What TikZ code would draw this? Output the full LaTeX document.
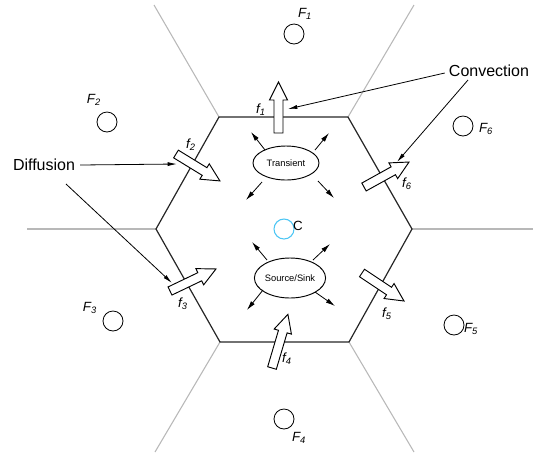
\documentclass[tikz,border=0pt]{standalone}
\usepackage{fontspec}
\setmainfont{Liberation Sans}
\usetikzlibrary{arrows.meta,shapes.geometric}

\tikzset{
  hexedge/.style={line width=0.9pt, black!85},
  cellline/.style={line width=0.8pt, black!28},
  cellpoint/.style={circle, draw, line width=0.6pt, minimum size=15pt, inner sep=0pt},
  centrepoint/.style={circle, draw=cyan!70, line width=0.8pt, minimum size=15pt, inner sep=0pt},
  pointer/.style={line width=0.6pt, -{Latex[length=7pt,width=3pt]}},
  spoke/.style={line width=0.6pt, -{Latex[length=7pt,width=3.6pt]}},
  fluxbox/.style={draw, fill=white, line width=0.7pt, line join=miter},
  termbox/.style={ellipse, draw, line width=0.7pt, inner sep=0pt, font=\fontsize{7}{8}\selectfont},
  lbl/.style={font=\fontsize{10}{12}\selectfont\itshape, inner sep=0pt},
  caption/.style={font=\fontsize{12}{14}\selectfont, inner sep=0pt},
}

% hollow block arrow: #1 name of its tip, #2 tail point, #3 angle, #4 length
\newcommand\fluxarrow[4]{%
  \begin{scope}[shift={#2}, rotate=#3]
    \draw[fluxbox] (0,-4.5) -- ({#4-18},-4.5) -- ({#4-18},-9) -- (#4,0)
      -- ({#4-18},9) -- ({#4-18},4.5) -- (0,4.5) -- cycle;
    \coordinate (#1) at ({#4-20},0);
  \end{scope}}

\begin{document}
\begin{tikzpicture}[x=0.75pt, y=-0.75pt]
  \useasboundingbox (0,0) rectangle (533,455);

  % hexagonal control volume
  \coordinate (TL) at (219,117);
  \coordinate (TR) at (348,117);
  \coordinate (R)  at (412,229);
  \coordinate (BR) at (349,342);
  \coordinate (BL) at (220,342);
  \coordinate (L)  at (156,229);

  % neighbouring cell boundaries
  \draw[cellline] (TL) -- (154,5);
  \draw[cellline] (TR) -- (414,5);
  \draw[cellline] (R)  -- (533,229);
  \draw[cellline] (L)  -- (27,229);
  \draw[cellline] (BL) -- (155,452);
  \draw[cellline] (BR) -- (414,452);

  \draw[hexedge] (TL) -- (TR) -- (R) -- (BR) -- (BL) -- (L) -- cycle;

  % neighbouring nodes
  \node[cellpoint] (F1) at (294,34) {};
  \node[cellpoint] (F2) at (107,122) {};
  \node[cellpoint] (F3) at (113,321) {};
  \node[cellpoint] (F4) at (284,419) {};
  \node[cellpoint] (F5) at (454,325) {};
  \node[cellpoint] (F6) at (463,126) {};
  \node[centrepoint] (C) at (284,229) {};

  \node[lbl] at (305,14)  {F\textsubscript{1}};
  \node[lbl] at (94,100)  {F\textsubscript{2}};
  \node[lbl] at (90,308)  {F\textsubscript{3}};
  \node[lbl] at (299,438) {F\textsubscript{4}};
  \node[lbl] at (471,329) {F\textsubscript{5}};
  \node[lbl] at (486,129) {F\textsubscript{6}};
  \node[lbl, font=\fontsize{10}{12}\selectfont] at (298,226) {C};

  % source terms inside the cell
  \node[termbox, minimum width=49.5pt, minimum height=25.5pt] (trans) at (286,163) {Transient};
  \node[termbox, minimum width=52.5pt, minimum height=30pt] (src) at (290,278) {Source/Sink};

  \coordinate (t1) at (251,132);
  \coordinate (t2) at (329,133);
  \coordinate (t3) at (246,200);
  \coordinate (t4) at (334,198);
  \draw[spoke] (265,150) -- (t1);
  \draw[spoke] (315,150) -- (t2);
  \draw[spoke] (262,182) -- (t3);
  \draw[spoke] (318,181) -- (t4);

  \coordinate (s1) at (252,242);
  \coordinate (s2) at (330,244);
  \coordinate (s3) at (247,310);
  \coordinate (s4) at (335,306);
  \draw[spoke] (267,260) -- (s1);
  \draw[spoke] (313,260) -- (s2);
  \draw[spoke] (263,290) -- (s3);
  \draw[spoke] (315,292) -- (s4);

  % face fluxes
  \fluxarrow{a1}{(278.5,133)}{90}{51}
  \fluxarrow{a2}{(176,154)}{-31.5}{51.5}
  \fluxarrow{a3}{(170,291)}{25.6}{51}
  \fluxarrow{a4}{(272,368)}{73.5}{56}
  \fluxarrow{a5}{(362,273)}{-33.7}{50.5}
  \fluxarrow{a6}{(364,187)}{29}{51.5}

  \node[lbl] at (261,110) {f\textsubscript{1}};
  \node[lbl] at (191,145) {f\textsubscript{2}};
  \node[lbl] at (183,304) {f\textsubscript{3}};
  \node[lbl] at (287,359) {f\textsubscript{4}};
  \node[lbl] at (387,314) {f\textsubscript{5}};
  \node[lbl] at (407,184) {f\textsubscript{6}};

  % annotations
  \node[caption] (conv) at (489,71) {Convection};
  \node[caption] (diff) at (44,165) {Diffusion};

  \coordinate (cv1) at (288,109);
  \coordinate (cv2) at (397,162);
  \coordinate (cv2s) at (468,80);
  \draw[pointer] (conv.west) ++(-4,2) -- (cv1);
  \draw[pointer] (cv2s) -- (cv2);

  \coordinate (df1) at (177,164);
  \coordinate (df2) at (172,283);
  \coordinate (df2s) at (66,184);
  \draw[pointer] (diff.east) ++(5,0) -- (df1);
  \draw[pointer] (df2s) -- (df2);
\end{tikzpicture}
\end{document}
